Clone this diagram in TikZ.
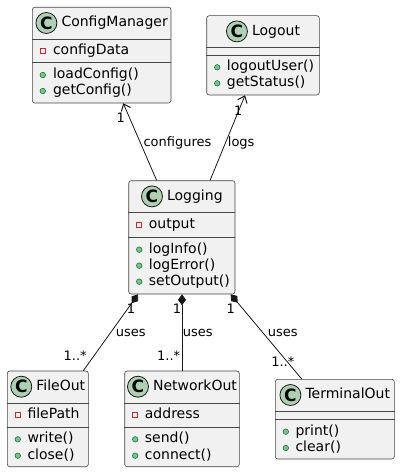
\documentclass[tikz,border=0pt]{standalone}
\usepackage{fontspec}
\setmainfont{DejaVu Sans}
\usetikzlibrary{arrows.meta,positioning}

\definecolor{umlline}{HTML}{181818}
\definecolor{umlfill}{HTML}{F1F1F1}
\definecolor{umlicon}{HTML}{ADD1B2}
\definecolor{umlpriv}{HTML}{C82930}
\definecolor{umlpub}{HTML}{84BE84}
\definecolor{umlpubline}{HTML}{038048}

\tikzset{
  classbox/.style={draw=umlline!80,fill=umlfill,line width=0.6pt,rounded corners=2.5pt,inner sep=0},
  divider/.style={draw=umlline!80,line width=0.6pt},
  classicon/.style={draw=umlline,fill=umlicon,circle,line width=0.8pt,minimum size=21pt,inner sep=0,
    font=\fontsize{17}{17}\selectfont\bfseries},
  classname/.style={inner sep=0,text height=10.6pt,text depth=3.3pt,font=\fontsize{14}{16}\selectfont},
  member/.style={classname,anchor=west},
  priv/.style={draw=umlpriv,line width=0.8pt,minimum size=5pt,inner sep=0},
  pub/.style={draw=umlpubline,fill=umlpub,circle,line width=0.6pt,minimum size=5.5pt,inner sep=0},
  assoc/.style={draw=umlline,line width=0.8pt,-{Straight Barb[length=6pt,width=10pt,line width=1pt]}},
  compo/.style={draw=umlline,line width=0.8pt,{Diamond[length=11pt,width=8pt]}-},
  lbl/.style={inner sep=0,text height=9.9pt,text depth=3.1pt,font=\fontsize{13}{15}\selectfont},
}

\begin{document}
\begin{tikzpicture}[x=1pt,y=-1pt]

  \fill[white] (0,0) rectangle (400,473);
  \useasboundingbox (0,0) rectangle (400,473);

  % class boxes
  \node (cfg) at (101.65,55.15) [classbox,minimum width=138.7pt,minimum height=95.7pt]{};
  \node (logout) at (263,55.35) [classbox,minimum width=112.6pt,minimum height=79.3pt]{};
  \node (logging) at (181.85,237.35) [classbox,minimum width=106.3pt,minimum height=113.3pt]{};
  \node (fileout) at (47.8,418.85) [classbox,minimum width=81pt,minimum height=95.7pt]{};
  \node (netout) at (182,418.85) [classbox,minimum width=114.6pt,minimum height=95.7pt]{};
  \node (termout) at (334.8,419.15) [classbox,minimum width=119pt,minimum height=79.7pt]{};

  \draw[divider] (cfg.west |- 0,39.3) -- (cfg.east |- 0,39.3) (cfg.west |- 0,62.7) -- (cfg.east |- 0,62.7);
  \draw[divider] (logout.west |- 0,47.7) -- (logout.east |- 0,47.7) (logout.west |- 0,55) -- (logout.east |- 0,55);
  \draw[divider] (logging.west |- 0,212.3) -- (logging.east |- 0,212.3) (logging.west |- 0,237.3) -- (logging.east |- 0,237.3);
  \draw[divider] (fileout.west |- 0,403.3) -- (fileout.east |- 0,403.3) (fileout.west |- 0,427) -- (fileout.east |- 0,427);
  \draw[divider] (netout.west |- 0,403.3) -- (netout.east |- 0,403.3) (netout.west |- 0,427) -- (netout.east |- 0,427);
  \draw[divider] (termout.west |- 0,411.7) -- (termout.east |- 0,411.7) (termout.west |- 0,419) -- (termout.east |- 0,419);

  % titles
  \node (cfg-name) at ([shift={(13,16)}]cfg.north) [classname]{ConfigManager};
  \node (cfg-icon) [classicon,left=4pt of cfg-name]{C};
  \node (logout-name) at ([shift={(13,16)}]logout.north) [classname]{Logout};
  \node (logout-icon) [classicon,left=4pt of logout-name]{C};
  \node (logging-name) at ([shift={(13,16)}]logging.north) [classname]{Logging};
  \node (logging-icon) [classicon,left=4pt of logging-name]{C};
  \node (fileout-name) at ([shift={(13,16)}]fileout.north) [classname]{FileOut};
  \node (fileout-icon) [classicon,left=4pt of fileout-name]{C};
  \node (netout-name) at ([shift={(13,16)}]netout.north) [classname]{NetworkOut};
  \node (netout-icon) [classicon,left=4pt of netout-name]{C};
  \node (termout-name) at ([shift={(13,16)}]termout.north) [classname]{TerminalOut};
  \node (termout-icon) [classicon,left=4pt of termout-name]{C};

  % members
  \node (cfg-p1) at (42.8,51.3) [priv]{};
  \node (cfg-a1) at (52.8,51.3) [member]{configData};
  \node (cfg-d1) at (42.8,75) [pub]{};
  \node (cfg-m1) at (52.8,75) [member]{loadConfig()};
  \node (cfg-d2) at (42.8,91) [pub]{};
  \node (cfg-m2) at (52.8,91) [member]{getConfig()};

  \node (logout-d1) at (217.2,67.3) [pub]{};
  \node (logout-m1) at (226.7,67.3) [member]{logoutUser()};
  \node (logout-d2) at (217.2,83.3) [pub]{};
  \node (logout-m2) at (226.7,83.3) [member]{getStatus()};

  \node (logging-p1) at (139.2,225) [priv]{};
  \node (logging-a1) at (148.7,225) [member]{output};
  \node (logging-d1) at (139.2,249.7) [pub]{};
  \node (logging-m1) at (148.7,249.7) [member]{logInfo()};
  \node (logging-d2) at (139.2,265.7) [pub]{};
  \node (logging-m2) at (148.7,265.7) [member]{logError()};
  \node (logging-d3) at (139.2,281.7) [pub]{};
  \node (logging-m3) at (148.7,281.7) [member]{setOutput()};

  \node (fileout-p1) at (17.8,415) [priv]{};
  \node (fileout-a1) at (27.3,415) [member]{filePath};
  \node (fileout-d1) at (17.8,439.3) [pub]{};
  \node (fileout-m1) at (27.3,439.3) [member]{write()};
  \node (fileout-d2) at (17.8,455.7) [pub]{};
  \node (fileout-m2) at (27.3,455.7) [member]{close()};

  \node (netout-p1) at (135.2,415) [priv]{};
  \node (netout-a1) at (144.7,415) [member]{address};
  \node (netout-d1) at (135.2,439.3) [pub]{};
  \node (netout-m1) at (144.7,439.3) [member]{send()};
  \node (netout-d2) at (135.2,455.7) [pub]{};
  \node (netout-m2) at (144.7,455.7) [member]{connect()};

  \node (termout-d1) at (285.8,431.7) [pub]{};
  \node (termout-m1) at (295.3,431.7) [member]{print()};
  \node (termout-d2) at (285.8,448) [pub]{};
  \node (termout-m2) at (295.3,448) [member]{clear()};

  % connectors
  \draw[assoc] ([xshift=-25.2pt]logging.north) -- ([xshift=21.6pt]cfg.south);
  \draw[assoc] ([xshift=28.2pt]logging.north) -- ([xshift=-18pt]logout.south);
  \draw[compo] ([xshift=-43.8pt]logging.south) -- ([xshift=35.5pt]fileout.north);
  \draw[compo] (netout.north |- logging.south) -- (netout.north);
  \draw[compo] ([xshift=48.8pt]logging.south) -- ([xshift=-33.1pt]termout.north);

  \draw (143.3,142.7) node[lbl,anchor=west]{configures};
  \draw (120.7,119.5) node[lbl]{1};
  \draw (241.2,142.7) node[lbl]{logs};
  \draw (238.3,111.7) node[lbl]{1};

  \draw (131,310.5) node[lbl]{1};
  \draw (130.7,333.3) node[lbl]{uses};
  \draw (75.2,356.7) node[lbl]{1..*};
  \draw (177,310.5) node[lbl]{1};
  \draw (197.8,333.3) node[lbl]{uses};
  \draw (168.7,356.7) node[lbl]{1..*};
  \draw (230.8,310.5) node[lbl]{1};
  \draw (282.8,333.3) node[lbl]{uses};
  \draw (282.8,362.8) node[lbl]{1..*};

\end{tikzpicture}
\end{document}
